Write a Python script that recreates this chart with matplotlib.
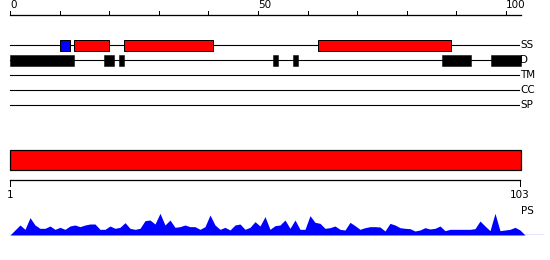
import matplotlib
matplotlib.use("Agg")
import matplotlib.pyplot as plt
import numpy as np

# ---------------- data ----------------
seq_len = 103
track_names = ["SS", "D", "TM", "CC", "SP"]

# secondary structure segments (start, end in ruler units) and their kind
ss_starts = [10, 13, 23, 62]
ss_ends = [12, 20, 41, 89]
ss_kinds = ["strand", "helix", "helix", "helix"]

# disorder segments
d_starts = [0, 19, 22, 53, 57, 87, 97]
d_ends = [13, 21, 23, 54, 58, 93, 103]

ruler_ticks = [0, 50, 100]
ruler_minor = [10, 20, 30, 40, 60, 70, 80, 90]

# PS profile, one value per residue (1..103)
ps_values = [0, 15, 30, 17, 52, 30, 20, 20, 27, 17,
             23, 17, 27, 30, 25, 30, 33, 33, 17, 17,
             27, 20, 23, 37, 20, 17, 20, 43, 45, 33,
             65, 30, 45, 23, 25, 30, 25, 25, 17, 25,
             60, 30, 17, 23, 15, 30, 33, 17, 23, 40,
             27, 55, 17, 28, 30, 45, 20, 45, 17, 17,
             58, 38, 35, 20, 22, 27, 17, 15, 38, 28,
             17, 22, 25, 25, 24, 12, 35, 30, 22, 20,
             19, 12, 15, 22, 18, 20, 27, 13, 17, 17,
             17, 17, 17, 19, 42, 27, 13, 65, 13, 15,
             17, 23, 15]

# ---------------- figure ----------------
W, H = 550, 260
fig = plt.figure(figsize=(W / 100, H / 100), dpi=100)
px = 0.72  # one pixel in points

RED = "#ff0000"
BLUE = "#0000ff"
FS = 7.5

# top axes: ruler units, 0 at px 10, 4.96 px per unit; y in pixels
sc_top = 4.96
ax = fig.add_axes([0, 0, 1, 1])
ax.set_xlim(-10 / sc_top, (W - 10) / sc_top)
ax.set_ylim(H, 0)
ax.axis("off")

# ruler
ruler_y = 15
ax.plot([0, seq_len], [ruler_y, ruler_y], color="black", lw=px * 1.3)
for t in ruler_ticks + ruler_minor:
    ax.plot([t, t], [ruler_y, ruler_y - 4], color="black", lw=px)
for t in ruler_ticks:
    ax.text(t, ruler_y - 4.5, str(t), ha="left", va="bottom", fontsize=FS,
            family="DejaVu Sans")

# tracks
track_y = {"SS": 45, "D": 60, "TM": 75, "CC": 90, "SP": 105}
line_end = 102.6
for name in track_names:
    y = track_y[name]
    ax.plot([0, line_end], [y, y], color="black", lw=px * 1.1)
    ax.text(line_end + 0.2, y, name, ha="left", va="center", fontsize=FS,
            family="DejaVu Sans")

ss_colors = {"helix": RED, "strand": BLUE}
for s, e, k in zip(ss_starts, ss_ends, ss_kinds):
    ax.barh(track_y["SS"], e - s, left=s, height=11, color=ss_colors[k],
            edgecolor="black", linewidth=px, zorder=3)

for s, e in zip(d_starts, d_ends):
    ax.barh(track_y["D"], e - s, left=s, height=11, color="black",
            edgecolor="black", linewidth=px * 0.5, zorder=3)

# bottom axes: residue units, 1 at px 10, 5 px per residue; y in pixels
sc_bot = 5.0
ax2 = fig.add_axes([0, 0, 1, 1])
ax2.set_xlim(1 - 10 / sc_bot, 1 + (W - 10) / sc_bot)
ax2.set_ylim(H, 0)
ax2.axis("off")
ax2.patch.set_alpha(0)

ax2.barh(160, seq_len - 0.9, left=1, height=20, color=RED,
         edgecolor="black", linewidth=px * 1.2)
ax2.plot([1, seq_len], [180, 180], color="black", lw=px * 1.3)
for t in [1, seq_len]:
    ax2.plot([t, t], [180, 185.5], color="black", lw=px)
    ax2.text(t, 190, str(t), ha="center", va="top", fontsize=FS,
             family="DejaVu Sans")
ax2.text(seq_len + 0.2, 211, "PS", ha="left", va="center", fontsize=FS,
         family="DejaVu Sans")

# profile axes: baseline at y px 235, 3 value units per pixel
prof_h = 40
ax3 = fig.add_axes([0, (H - 235) / H, 1, prof_h / H])
ax3.set_xlim(1 - 10 / sc_bot, 1 + (W - 10) / sc_bot)
ax3.set_ylim(0, prof_h * 3)
ax3.axis("off")
ax3.patch.set_alpha(0)
res = np.arange(1, len(ps_values) + 2)
vals = np.array(ps_values + [0], dtype=float)
ax3.fill_between(res, 0, vals, color=BLUE, lw=0)
ax3.plot([1, 1 + (543 - 10) / sc_bot], [0.8, 0.8], color=BLUE, lw=px * 1.2)

fig.savefig("out.png", dpi=100)
